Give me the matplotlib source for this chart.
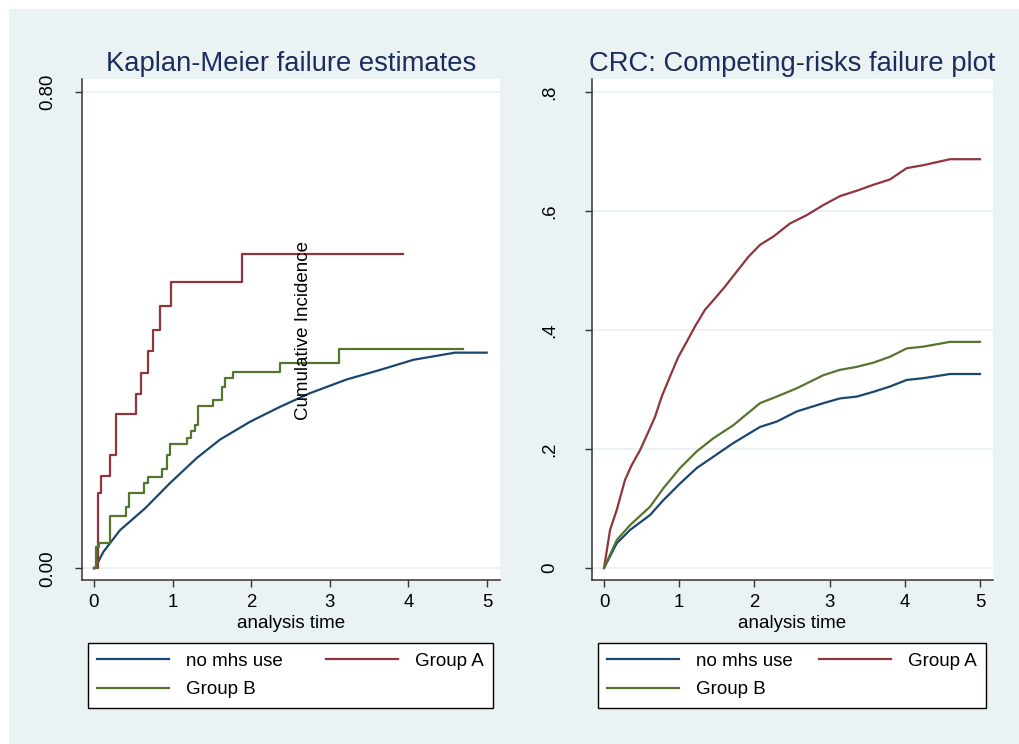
import matplotlib.pyplot as plt
from matplotlib.patches import Rectangle

plt.rcParams['font.family'] = ['Liberation Sans', 'DejaVu Sans']

# Kaplan-Meier failure estimates
km_none_t = [0, 0.01, 0.119, 0.331, 0.649, 0.967, 1.306, 1.603, 1.985, 2.366,
             2.748, 3.215, 3.639, 4.063, 4.593, 4.996]
km_none_v = [0, 0.0, 0.0275, 0.064, 0.1005, 0.143, 0.185, 0.216, 0.246, 0.271,
             0.294, 0.317, 0.333, 0.350, 0.362, 0.362]

km_a_t = [0, 0.05, 0.085, 0.21, 0.275, 0.534, 0.598, 0.683, 0.755, 0.84, 0.98,
          1.878, 3.935]
km_a_v = [0, 0.126, 0.155, 0.190, 0.259, 0.293, 0.328, 0.364, 0.400, 0.440,
          0.481, 0.527, 0.527]

km_b_t = [0, 0.03, 0.06, 0.204, 0.407, 0.45, 0.636, 0.683, 0.869, 0.925, 0.967,
          1.18, 1.23, 1.285, 1.327, 1.518, 1.624, 1.667, 1.772, 2.366, 3.121, 4.698]
km_b_v = [0, 0.036, 0.043, 0.0876, 0.103, 0.126, 0.144, 0.154, 0.166, 0.190,
          0.208, 0.219, 0.231, 0.240, 0.272, 0.283, 0.305, 0.320, 0.329, 0.345,
          0.368, 0.368]

# competing-risks cumulative incidence
crc_t = [0, 0.169, 0.346, 0.612, 0.789, 1.011, 1.233, 1.454, 1.72, 2.074, 2.296,
         2.562, 2.917, 3.138, 3.36, 3.581, 3.803, 4.025, 4.246, 4.601, 5.0]
crc_none = [0, 0.0415, 0.0639, 0.089, 0.114, 0.142, 0.168, 0.187, 0.210, 0.237,
            0.246, 0.263, 0.277, 0.285, 0.288, 0.296, 0.305, 0.316, 0.319, 0.326,
            0.326]
crc_b = [0, 0.047, 0.072, 0.103, 0.134, 0.168, 0.196, 0.218, 0.240, 0.277,
         0.288, 0.302, 0.324, 0.333, 0.338, 0.345, 0.355, 0.369, 0.372, 0.380,
         0.380]

crc_a_t = [0, 0.080, 0.169, 0.279, 0.368, 0.479, 0.590, 0.678, 0.767, 0.878,
           0.989, 1.099, 1.21, 1.343, 1.454, 1.609, 1.764, 1.92, 2.074, 2.252,
           2.473, 2.695, 2.917, 3.138, 3.36, 3.581, 3.803, 4.025, 4.246, 4.601,
           5.0]
crc_a = [0, 0.0639, 0.0975, 0.148, 0.173, 0.198, 0.229, 0.254, 0.288, 0.322,
         0.355, 0.380, 0.406, 0.434, 0.450, 0.473, 0.498, 0.523, 0.543, 0.557,
         0.579, 0.593, 0.610, 0.625, 0.634, 0.644, 0.653, 0.672, 0.677, 0.687,
         0.687]

labels = ['no mhs use', 'Group A', 'Group B']
colors = ['#1A476F', '#90353B', '#55752F']
bg = '#EAF2F3'
title_color = '#1C2D5C'

W, H = 1019, 744
fig = plt.figure(figsize=(W / 100, H / 100), dpi=100, facecolor='white')
fig.patches.append(Rectangle((9 / W, 0), 1 - 9 / W, 1 - 9 / H, transform=fig.transFigure,
                             facecolor=bg, edgecolor='none', zorder=-10))

ax1 = fig.add_axes([81.7 / W, 164 / H, 418.3 / W, 501 / H])
ax2 = fig.add_axes([591.7 / W, 164 / H, 400.8 / W, 501 / H])

ax1.plot(km_none_t, km_none_v, color=colors[0], lw=1.6)
ax1.plot(km_a_t, km_a_v, color=colors[1], lw=1.6, drawstyle='steps-post')
ax1.plot(km_b_t, km_b_v, color=colors[2], lw=1.6, drawstyle='steps-post')

ax2.plot(crc_t, crc_none, color=colors[0], lw=1.6)
ax2.plot(crc_a_t, crc_a, color=colors[1], lw=1.6)
ax2.plot(crc_t, crc_b, color=colors[2], lw=1.6)

ax1.set_xlim(-0.156, 5.165)
ax1.set_ylim(-0.0196, 0.8213)
ax2.set_xlim(-0.164, 5.166)
ax2.set_ylim(-0.0202, 0.8218)

ax1.set_yticks([0, 0.8])
ax1.set_yticklabels(['0.00', '0.80'])
ax2.set_yticks([0, 0.2, 0.4, 0.6, 0.8])
ax2.set_yticklabels(['0', '.2', '.4', '.6', '.8'])

for ax, title in [(ax1, 'Kaplan-Meier failure estimates'),
                  (ax2, 'CRC: Competing-risks failure plot')]:
    ax.set_facecolor('white')
    ax.set_xticks(range(6))
    ax.grid(axis='y', color=bg, lw=1.5)
    ax.set_axisbelow(True)
    for side in ['top', 'right']:
        ax.spines[side].set_visible(False)
    for side in ['left', 'bottom']:
        ax.spines[side].set_color('#333333')
        ax.spines[side].set_linewidth(1.1)
    ax.tick_params(axis='both', length=5, width=1, color='#333333',
                   labelsize=13.4, labelcolor='black')
    ax.tick_params(axis='x', pad=5)
    ax.tick_params(axis='y', labelrotation=90, pad=13)
    for lbl in ax.get_yticklabels():
        lbl.set_va('center')
    ax.set_xlabel('analysis time', fontsize=13.5, labelpad=3)
    ax.set_title(title, fontsize=19.7, color=title_color, pad=6)

ax2.tick_params(axis='y', pad=19)

ax1.text(2.66, 0.40, 'Cumulative Incidence', rotation=90, fontsize=13.5,
         ha='center', va='center')

# legends under each panel, row-major order
for ax, x0, x1 in [(ax1, 88, 493), (ax2, 598, 986)]:
    lines = ax.get_lines()
    handles = [lines[0], lines[2], lines[1]]
    names = [labels[0], labels[2], labels[1]]
    fig.legend(handles, names, ncol=2, loc='upper left', mode='expand',
               bbox_to_anchor=(x0 / W, 36 / H, (x1 - x0) / W, 65 / H),
               bbox_transform=fig.transFigure, borderaxespad=0,
               fontsize=13.5, handlelength=3.84, handletextpad=0.9,
               labelspacing=0.62, borderpad=0.5, fancybox=False,
               edgecolor='black', framealpha=1, facecolor='white')

fig.savefig('out.png', dpi=100, facecolor=fig.get_facecolor())
